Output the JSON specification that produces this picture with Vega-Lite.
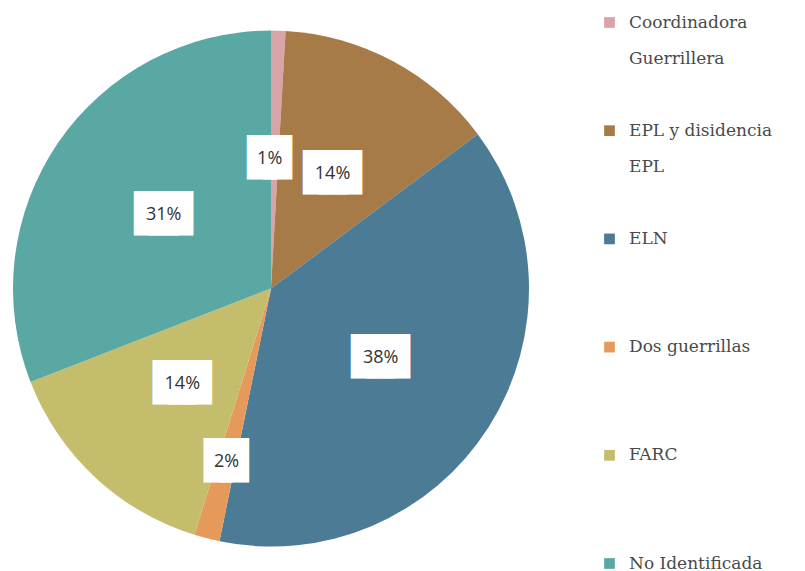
{
  "$schema": "https://vega.github.io/schema/vega-lite/v6.json",
  "width": 542,
  "height": 565,
  "padding": {"left": 0, "top": 6, "right": 0, "bottom": 0},
  "background": "white",
  "view": {"stroke": null},
  "data": {
    "values": [
      {"grupo": "Coordinadora Guerrillera", "pct": 0.009},
      {"grupo": "EPL y disidencia EPL", "pct": 0.139},
      {"grupo": "ELN", "pct": 0.384},
      {"grupo": "Dos guerrillas", "pct": 0.016},
      {"grupo": "FARC", "pct": 0.143},
      {"grupo": "No Identificada", "pct": 0.309}
    ]
  },
  "transform": [{"window": [{"op": "row_number", "as": "idx"}]}],
  "encoding": {
    "theta": {"field": "pct", "type": "quantitative", "stack": true},
    "order": {"field": "idx", "type": "quantitative"},
    "detail": {"field": "grupo", "type": "nominal"}
  },
  "layer": [
    {
      "mark": {"type": "arc", "radius": 258},
      "encoding": {
        "color": {
          "field": "grupo",
          "type": "nominal",
          "sort": null,
          "scale": {
            "domain": ["Coordinadora Guerrillera", "EPL y disidencia EPL", "ELN", "Dos guerrillas", "FARC", "No Identificada"],
            "range": ["#d9a4a8", "#a67b47", "#4b7b95", "#e59a5c", "#c4bd6c", "#5aa8a3"]
          },
          "legend": {
            "title": null,
            "orient": "none",
            "legendX": 601,
            "legendY": 8,
            "padding": 0,
            "symbolType": "square",
            "symbolSize": 115,
            "symbolStrokeWidth": 0,
            "labelFont": "DejaVu Serif",
            "labelFontSize": 17,
            "labelColor": "#4a4a4a",
            "labelOffset": 11,
            "labelLimit": 300,
            "gridAlign": "all",
            "rowPadding": 54.2,
            "labelExpr": "datum.label == 'Coordinadora Guerrillera' ? ['Coordinadora', 'Guerrillera'] : datum.label == 'EPL y disidencia EPL' ? ['EPL y disidencia', 'EPL'] : datum.label",
            "encode": {"labels": {"update": {"lineHeight": {"value": 36}}}}
          }
        }
      }
    },
    {
      "mark": {"type": "text", "radius": 130, "text": "█", "font": "DejaVu Sans", "fontSize": 37.5, "fill": "white", "baseline": "middle", "dx": -15},
      "encoding": {"opacity": {"condition": {"test": "datum.grupo == 'EPL y disidencia EPL' || datum.grupo == 'ELN' || datum.grupo == 'FARC' || datum.grupo == 'No Identificada'", "value": 1}, "value": 0}}
    },
    {
      "mark": {"type": "text", "radius": 130, "text": "█", "font": "DejaVu Sans", "fontSize": 37.5, "fill": "white", "baseline": "middle", "dx": 0},
      "encoding": {"opacity": {"condition": {"test": "datum.grupo == 'EPL y disidencia EPL' || datum.grupo == 'ELN' || datum.grupo == 'FARC' || datum.grupo == 'No Identificada'", "value": 1}, "value": 0}}
    },
    {
      "mark": {"type": "text", "radius": 130, "text": "█", "font": "DejaVu Sans", "fontSize": 37.5, "fill": "white", "baseline": "middle", "dx": 15},
      "encoding": {"opacity": {"condition": {"test": "datum.grupo == 'EPL y disidencia EPL' || datum.grupo == 'ELN' || datum.grupo == 'FARC' || datum.grupo == 'No Identificada'", "value": 1}, "value": 0}}
    },
    {
      "mark": {"type": "text", "radius": 179, "text": "█", "font": "DejaVu Sans", "fontSize": 37.5, "fill": "white", "baseline": "middle", "dx": -8},
      "encoding": {"opacity": {"condition": {"test": "datum.grupo == 'Dos guerrillas'", "value": 1}, "value": 0}}
    },
    {
      "mark": {"type": "text", "radius": 179, "text": "█", "font": "DejaVu Sans", "fontSize": 37.5, "fill": "white", "baseline": "middle", "dx": 8},
      "encoding": {"opacity": {"condition": {"test": "datum.grupo == 'Dos guerrillas'", "value": 1}, "value": 0}}
    },
    {
      "mark": {"type": "text", "radius": 130, "text": "█", "font": "DejaVu Sans", "fontSize": 37.5, "fill": "white", "baseline": "middle", "dx": -13},
      "encoding": {"opacity": {"condition": {"test": "datum.grupo == 'Coordinadora Guerrillera'", "value": 1}, "value": 0}}
    },
    {
      "mark": {"type": "text", "radius": 130, "text": "█", "font": "DejaVu Sans", "fontSize": 37.5, "fill": "white", "baseline": "middle", "dx": 3},
      "encoding": {"opacity": {"condition": {"test": "datum.grupo == 'Coordinadora Guerrillera'", "value": 1}, "value": 0}}
    },
    {
      "mark": {"type": "text", "radius": 130, "font": "Open Sans", "fontSize": 18, "fill": "#333333", "baseline": "middle"},
      "encoding": {
        "text": {"field": "pct", "type": "quantitative", "format": ".0%"},
        "opacity": {"condition": {"test": "datum.grupo != 'Dos guerrillas' && datum.grupo != 'Coordinadora Guerrillera'", "value": 1}, "value": 0}
      }
    },
    {
      "mark": {"type": "text", "radius": 179, "font": "Open Sans", "fontSize": 18, "fill": "#333333", "baseline": "middle"},
      "encoding": {
        "text": {"field": "pct", "type": "quantitative", "format": ".0%"},
        "opacity": {"condition": {"test": "datum.grupo == 'Dos guerrillas'", "value": 1}, "value": 0}
      }
    },
    {
      "mark": {"type": "text", "radius": 130, "font": "Open Sans", "fontSize": 18, "fill": "#333333", "baseline": "middle", "dx": -5},
      "encoding": {
        "text": {"field": "pct", "type": "quantitative", "format": ".0%"},
        "opacity": {"condition": {"test": "datum.grupo == 'Coordinadora Guerrillera'", "value": 1}, "value": 0}
      }
    }
  ]
}
